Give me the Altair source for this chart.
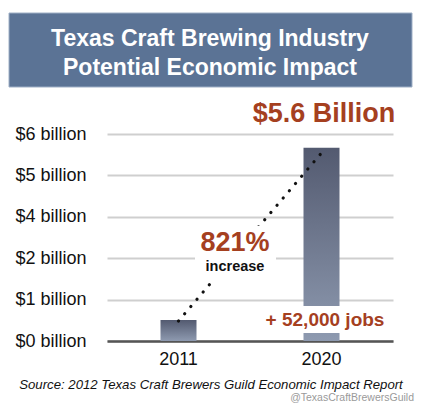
import altair as alt
import pandas as pd

# ---- data ----
years = ["2011", "2020"]
impact_billion = [0.608, 5.6]          # economic impact, $ billion
trend_years = ["2011", "2020"]
trend_values = [0.58, 5.45]            # dotted trend line end points
y_tick_labels = ["$0 billion", "$1 billion", "$2 billion",
                 "$4 billion", "$5 billion", "$6 billion"]
title_lines = ["Texas Craft Brewing Industry", "Potential Economic Impact"]
headline = "$5.6 Billion"
pct_text = "821%"
pct_sub = "increase"
jobs_text = "+ 52,000 jobs"
source_text = "Source:  2012 Texas Craft Brewers Guild Economic Impact Report"
credit_text = "@TexasCraftBrewersGuild"

W, H = 286, 207
YMAX = 6.0
tick_vals = [i * YMAX / (len(y_tick_labels) - 1) for i in range(len(y_tick_labels))]
label_expr = "[" + ",".join("'" + s + "'" for s in y_tick_labels) + "][round(datum.value*%d/%g)]" % (len(y_tick_labels) - 1, YMAX)

bars_df = pd.DataFrame({"year": years, "value": impact_billion})
trend_df = pd.DataFrame({"year": trend_years, "value": trend_values})

FONT = "Liberation Sans"
RED = "#a5401f"

xscale = alt.Scale(domain=years, paddingInner=0, paddingOuter=0)
yscale = alt.Scale(domain=[0, YMAX], nice=False)

x_enc = alt.X("year:N", scale=xscale, title=None,
              axis=alt.Axis(labelAngle=0, labelFontSize=18, labelFont=FONT,
                            labelColor="#111", ticks=False, labelPadding=9,
                            domainColor="#555", domainWidth=2.5, grid=False))
y_enc = alt.Y("value:Q", scale=yscale, title=None,
              axis=alt.Axis(values=tick_vals, labelExpr=label_expr,
                            labelFontSize=18, labelFont=FONT, labelColor="#111",
                            ticks=False, labelPadding=21, domain=False,
                            grid=True, gridColor="#cfcfcf", gridWidth=2))

bars = alt.Chart(bars_df).mark_bar(
    size=36,
    color=alt.Gradient(gradient="linear", x1=0, x2=0, y1=0, y2=1,
                       stops=[alt.GradientStop(color="#535a70", offset=0),
                              alt.GradientStop(color="#8e9ab0", offset=1)])
).encode(x=x_enc, y=y_enc)

trend = alt.Chart(trend_df).mark_line(
    color="#111", strokeWidth=3.2, strokeCap="round", strokeDash=[0.1, 9.4]
).encode(x=alt.X("year:N", scale=xscale), y=alt.Y("value:Q", scale=yscale))

# white knock-out boxes behind the annotations
bg = pd.DataFrame({"k": [0]})
box_pct = alt.Chart(bg).mark_rect(color="white").encode(
    x=alt.value(88), x2=alt.value(169), y=alt.value(92), y2=alt.value(146))
box_jobs = alt.Chart(bg).mark_rect(color="white").encode(
    x=alt.value(150), x2=alt.value(286), y=alt.value(172), y2=alt.value(199))

# title banner
banner = alt.Chart(bg).mark_rect(color="#5b7395", stroke="#9fb0c6", strokeWidth=1).encode(
    x=alt.value(-98), x2=alt.value(305), y=alt.value(-121), y2=alt.value(-47))

def txt(s, x, y, size, color, weight="bold", style="normal", align="center"):
    return alt.Chart(pd.DataFrame({"t": [s]})).mark_text(
        font=FONT, fontSize=size, fontWeight=weight, fontStyle=style,
        color=color, align=align, baseline="middle"
    ).encode(text="t:N", x=alt.value(x), y=alt.value(y))

texts = [
    txt(title_lines[0], 103, -95, 23, "white"),
    txt(title_lines[1], 103, -66, 23, "white"),
    txt(headline, 217, -20, 27, RED),
    txt(pct_text, 128, 109, 27, RED),
    txt(pct_sub, 128, 133, 14.5, "#111"),
    txt(jobs_text, 218, 186, 19, RED),
    txt(source_text, 104, 251, 13.2, "#111", weight="normal", style="italic"),
    txt(credit_text, 307, 264, 10.5, "#9a9a9a", weight="normal", align="right"),
]

chart = alt.layer(banner, bars, trend, box_pct, box_jobs, *texts).properties(
    width=W, height=H,
    autosize=alt.AutoSizeParams(type="none"),
    padding={"left": 99, "top": 126, "right": 23, "bottom": 62},
    background="white",
).configure_view(stroke=None)

chart.save("out.html", embed_options={"renderer": "svg", "actions": False})
